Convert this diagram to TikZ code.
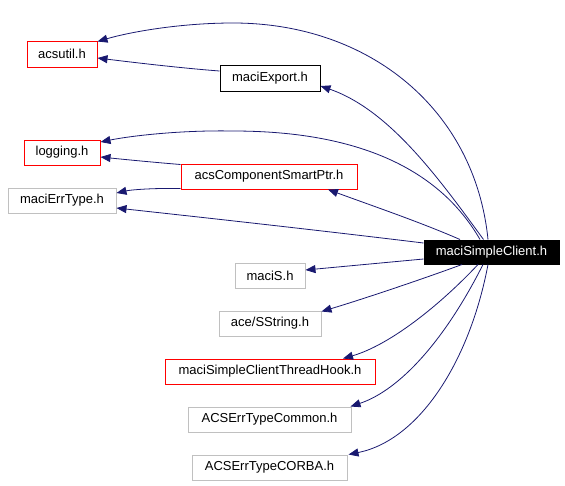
\documentclass[tikz,border=0pt]{standalone}
\usepackage{fontspec}
\setmainfont{Liberation Sans}
\usetikzlibrary{arrows.meta}
\definecolor{edgeblue}{HTML}{191970}
\definecolor{boxgray}{HTML}{C0C0C0}
\tikzset{
  file/.style={draw, line width=1pt, minimum height=25pt, inner sep=0pt, font=\fontsize{13}{15}\selectfont},
  redbox/.style={file, draw=red},
  graybox/.style={file, draw=boxgray},
  blackbox/.style={file, draw=black},
  rootbox/.style={file, draw=black, fill=black, text=white},
  dep/.style={draw=edgeblue, line width=0.8pt, -{Triangle[length=10pt,width=8pt,fill=edgeblue]}}
}
\begin{document}
\begin{tikzpicture}[x=1pt,y=-1pt]
\useasboundingbox (0,0) rectangle (565,485);
\node[redbox, minimum width=70pt, minimum height=26pt] (acsutil) at (62,54) {acsutil.h};
\node[blackbox, minimum width=100pt, minimum height=26pt] (export) at (270,78) {maciExport.h};
\node[redbox, minimum width=76pt] (logging) at (62,152.5) {logging.h};
\node[redbox, minimum width=176pt] (csp) at (269,176.5) {acsComponentSmartPtr.h};
\node[graybox, minimum width=108pt] (errtype) at (62,200.5) {maciErrType.h};
\node[rootbox, minimum width=135pt, minimum height=24pt] (msc) at (491.5,252) {maciSimpleClient.h};
\node[graybox, minimum width=70pt] (macis) at (270,275.5) {maciS.h};
\node[graybox, minimum width=102pt] (sstring) at (270,323.5) {ace/SString.h};
\node[redbox, minimum width=210pt] (hook) at (270,371.5) {maciSimpleClientThreadHook.h};
\node[graybox, minimum width=163pt] (common) at (269.5,419.5) {ACSErrTypeCommon.h};
\node[graybox, minimum width=155pt] (corba) at (269.5,467.5) {ACSErrTypeCORBA.h};

\draw[dep] ([xshift=-3.5pt]msc.north) .. controls (475,110) and (370,23) .. (233,23)
  .. controls (180,23) and (130,32) .. ([yshift=-1pt]acsutil.north east);
\draw[dep] ([xshift=-8pt]msc.north) .. controls (440,180) and (390,110) .. ([yshift=-8pt]export.east);
\draw[dep] ([yshift=7pt]export.west) .. controls (180,68) and (130,62) .. ([yshift=-4pt]acsutil.east);
\draw[dep] ([xshift=-11.5pt]msc.north) .. controls (440,170) and (360,131) .. (233,131)
  .. controls (180,130) and (130,136) .. ([yshift=10.5pt]logging.east);
\draw[dep] ([yshift=-1pt]csp.north west) .. controls (150,162) and (120,159) .. ([yshift=-4.5pt]logging.east);
\draw[dep] ([xshift=-31.5pt]msc.north) .. controls (420,222) and (370,205) .. ([xshift=59pt]csp.south);
\draw[dep] ([yshift=1pt]csp.south west) .. controls (150,188) and (130,190) .. ([yshift=7.5pt]errtype.east);
\draw[dep] ([yshift=9pt]msc.west) .. controls (300,228) and (180,215) .. ([yshift=-7.5pt]errtype.east);
\draw[dep] ([yshift=-7pt]msc.west) -- ([yshift=5.5pt]macis.east);
\draw[dep] ([xshift=-29.5pt]msc.south) .. controls (420,280) and (360,300) .. ([yshift=-1pt]sstring.north east);
\draw[dep] ([xshift=-13.5pt]msc.south) .. controls (440,305) and (390,345) .. ([xshift=73pt]hook.north);
\draw[dep] ([xshift=-8.5pt]msc.south) .. controls (445,340) and (400,390) .. ([xshift=-1pt]common.north east);
\draw[dep] ([xshift=-3.5pt]msc.south) .. controls (470,360) and (420,440) .. ([xshift=1pt]corba.north east);
\end{tikzpicture}
\end{document}
